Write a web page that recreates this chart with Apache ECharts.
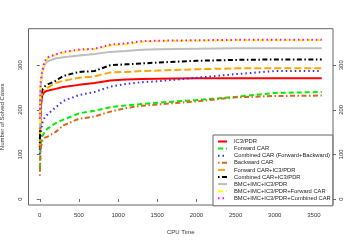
<!DOCTYPE html>
<html><head><meta charset="utf-8">
<script src="https://cdn.jsdelivr.net/npm/echarts@6/dist/echarts.min.js"></script>
<style>html,body{margin:0;padding:0;background:#fff}#c{width:348px;height:241px}</style>
</head><body><div id="c"></div>
<script>
const times = [1, 10, 30, 60, 100, 200, 300, 500, 700, 900, 1100, 1300, 1500, 2000, 2500, 3000, 3600];
const seriesNames = ["IC3/PDR", "Forward CAR", "Combined CAR (Forward+Backward)", "Backward CAR", "Forward CAR+IC3/PDR", "Combined CAR+IC3/PDR", "BMC+IMC+IC3/PDR", "BMC+IMC+IC3/PDR+Forward CAR", "BMC+IMC+IC3/PDR+Combined CAR"];
const ic3 =        [110, 200, 232, 240, 243, 247, 251, 256, 260, 266, 268, 269, 270, 271, 271, 271, 271];
const fwdCar =     [68, 120, 140, 150, 158, 170, 178, 192, 198, 206, 210, 213, 216, 222, 229, 238, 240];
const combCar =    [100, 140, 170, 182, 190, 205, 220, 233, 240, 252, 258, 262, 264, 272, 280, 287, 287];
const bwdCar =     [52, 110, 130, 137, 140, 150, 165, 180, 185, 196, 204, 209, 212, 219, 228, 231, 232];
const fwdIc3 =     [120, 215, 240, 247, 250, 260, 265, 272, 275, 284, 285, 287, 288, 291, 293, 293, 293];
const combIc3 =    [125, 220, 245, 252, 257, 265, 276, 285, 287, 300, 302, 304, 306, 310, 312, 313, 313];
const bmc =        [160, 250, 285, 300, 309, 315, 318, 322, 325, 330, 332, 335, 336, 337, 338, 338, 338];
const bmcFwd =     [170, 255, 282, 305, 316, 323, 328, 334, 336, 344, 347, 352, 354, 355, 356, 356, 356];
const bmcComb =    [180, 260, 285, 308, 318, 324, 330, 335, 337, 346, 349, 354, 355, 356, 357, 357, 357];
const xTicks = [0, 500, 1000, 1500, 2000, 2500, 3000, 3500];
const yTicks = [0, 100, 200, 300];

const values = [ic3, fwdCar, combCar, bwdCar, fwdIc3, combIc3, bmc, bmcFwd, bmcComb];
const colors = ['#FF0000', '#00EE00', '#3030FF', '#D2691E', '#FFA500', '#000000', '#BEBEBE', '#FFFF00', '#FF00FF'];
const dashes = ['solid', [5, 3], [1.5, 3], [1.5, 2.5, 5, 2.5], [7, 3], [1.5, 2.5, 5, 2.5], 'solid', [5, 3], [1.5, 3]];

const F = 'Liberation Sans, Arial, sans-serif';
const chart = echarts.init(document.getElementById('c'), null, {renderer: 'canvas'});
const fmt = v => String(v);
const yAxisBase = (pos) => ({
  type: 'value', position: pos, min: -13.5, max: 382,
  splitLine: {show: false},
  axisLine: {show: false},
  axisTick: {show: true, inside: false, length: 3, customValues: yTicks, lineStyle: {color: '#444', width: 0.8}},
  axisLabel: {show: true, customValues: yTicks, formatter: fmt, rotate: 90, fontSize: 6, color: '#333', fontFamily: F, margin: 5}
});
chart.setOption({
  animation: false,
  grid: {left: 28.5, right: 15, top: 28.7, bottom: 36, show: true, borderColor: '#666', borderWidth: 1,
    backgroundColor: 'transparent', containLabel: false, outerBoundsMode: 'none'},
  xAxis: {
    type: 'value', min: -144, max: 3744,
    name: 'CPU Time', nameLocation: 'middle', nameGap: 24,
    nameTextStyle: {fontSize: 6, color: '#333', fontFamily: F},
    splitLine: {show: false}, axisLine: {show: false},
    axisTick: {show: true, length: 3, customValues: xTicks, lineStyle: {color: '#444', width: 0.8}},
    axisLabel: {customValues: xTicks, formatter: fmt, fontSize: 6, color: '#333', fontFamily: F, margin: 7}
  },
  yAxis: [
    Object.assign(yAxisBase('left'), {name: 'Number of Solved Cases', nameLocation: 'middle', nameGap: 23, nameRotate: 90,
      nameTextStyle: {fontSize: 6, color: '#333', fontFamily: F}}),
    yAxisBase('right')
  ],
  legend: {
    left: 213, top: 135, orient: 'vertical',
    itemWidth: 9, itemHeight: 7, itemGap: 0.1,
    padding: [3, 2, 4, 4],
    itemStyle: {opacity: 0},
    backgroundColor: '#fff', borderColor: '#666', borderWidth: 1,
    textStyle: {fontSize: 5.8, lineHeight: 7, color: '#222', fontFamily: F, padding: [0, 0, 0, 2]},
    data: seriesNames
  },
  series: seriesNames.map((n, i) => ({
    name: n, type: 'line', symbol: 'none', yAxisIndex: 0, z: 2 + i,
    data: times.map((t, k) => [t, values[i][k]]),
    lineStyle: {color: colors[i], width: 2, type: dashes[i]},
    itemStyle: {color: colors[i]}
  }))
});
</script></body></html>
